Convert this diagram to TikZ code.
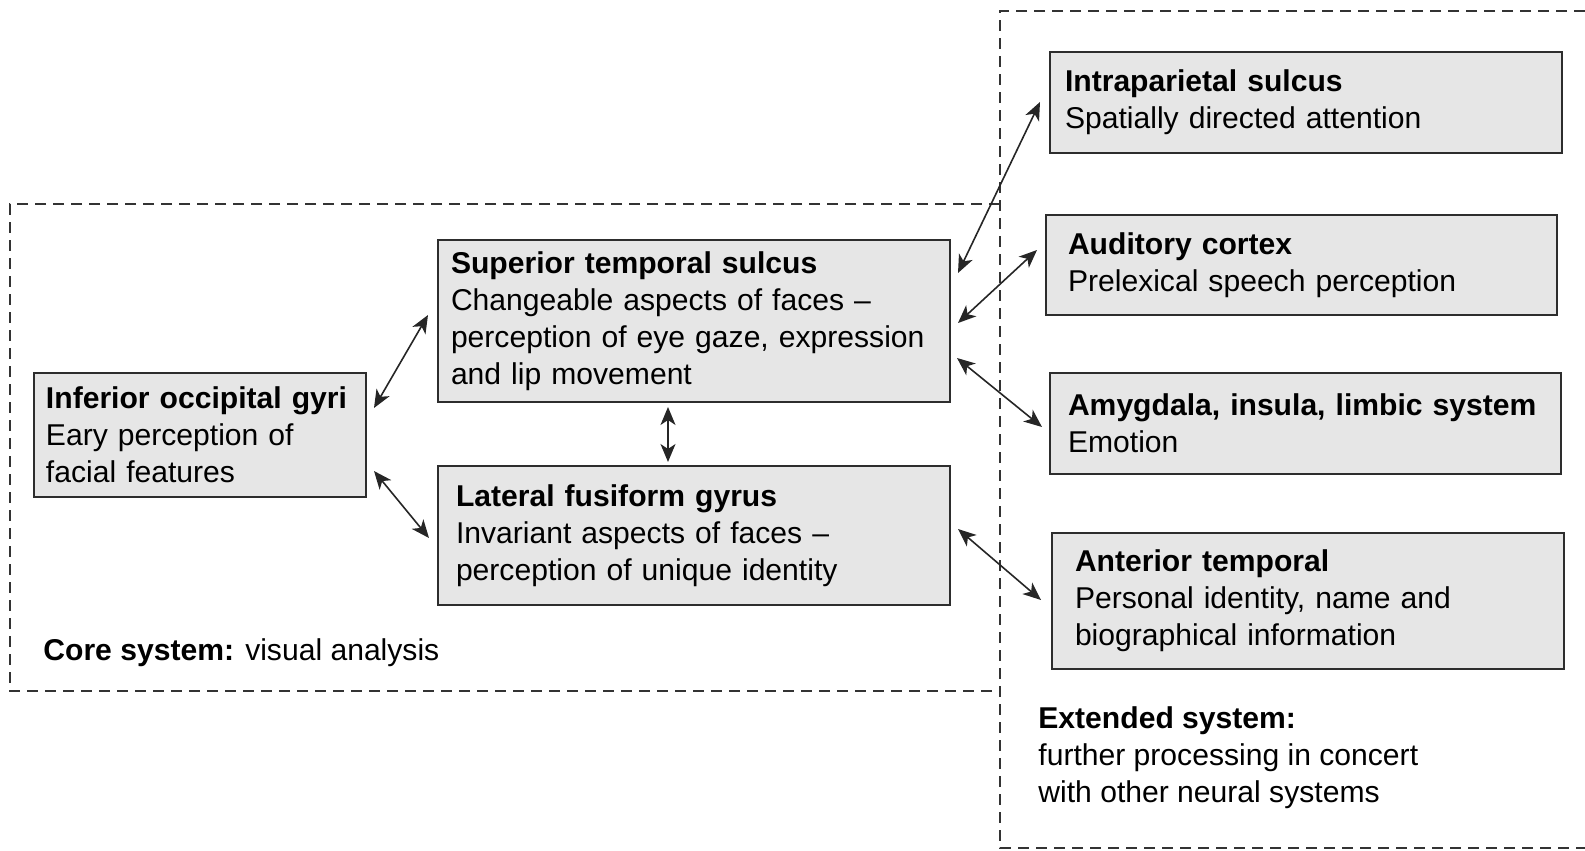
\documentclass[tikz,border=0pt]{standalone}
\usepackage{fontspec}
\setmainfont{Liberation Sans}
\usepackage{tikz}
\usetikzlibrary{arrows.meta}

\definecolor{boxfill}{RGB}{230,230,230}
\definecolor{boxline}{RGB}{45,45,45}

\tikzset{
  area/.style={draw=boxline, fill=boxfill, line width=1pt, align=left, anchor=north west, inner ysep=0pt},
  link/.style={{Stealth[length=9pt,width=7.5pt,inset=2.5pt]}-{Stealth[length=9pt,width=7.5pt,inset=2.5pt]}, line width=0.8pt, draw=black!85},
  border/.style={dashed, dash pattern=on 5.5pt off 3.5pt, line width=0.7pt, draw=black!80}
}

\begin{document}
\begin{tikzpicture}[x=0.5pt, y=-0.5pt, font=\fontsize{15.05}{18.5}\selectfont]
\useasboundingbox (0,0) rectangle (1585,851);
% dashed system frames
\draw [border] (1000,204) -- (10,204) -- (10,691) -- (1000,691);
\draw [border] (1585,11) -- (1000,11) -- (1000,848) -- (1585,848);

% core system
\node [area, text width=154pt, inner xsep=6pt, minimum height=62pt] (iog) at (33,372)
  {\textbf{Inferior occipital gyri}\\Eary perception of\\facial features};
\node [area, text width=243pt, inner xsep=6.5pt, minimum height=81pt] (sts) at (437,239)
  {\textbf{Superior temporal sulcus}\\Changeable aspects of faces --\\perception of eye gaze, expression\\and lip movement};
\node [area, text width=238pt, inner xsep=9pt, minimum height=69.5pt] (lfg) at (437,465)
  {\textbf{Lateral fusiform gyrus}\\Invariant aspects of faces --\\perception of unique identity};

% extended system
\node [area, text width=241pt, inner xsep=7.5pt, minimum height=50.5pt] (ips) at (1049,51)
  {\textbf{Intraparietal sulcus}\\Spatially directed attention};
\node [area, text width=233.5pt, inner xsep=11pt, minimum height=50pt] (aud) at (1045,214)
  {\textbf{Auditory cortex}\\Prelexical speech perception};
\node [area, text width=237.5pt, inner xsep=9pt, minimum height=50.5pt] (amy) at (1049,372)
  {\textbf{Amygdala, insula, limbic system}\\Emotion};
\node [area, text width=233pt, inner xsep=11.5pt, minimum height=68pt] (ant) at (1051,532)
  {\textbf{Anterior temporal}\\Personal identity, name and\\biographical information};

% captions
\node [anchor=base west, inner sep=0pt] (core) at (43,660) {\textbf{Core system:} visual analysis};
\node [anchor=north west, align=left, inner sep=0pt] (ext) at (1038,706)
  {\textbf{Extended system:}\\further processing in concert\\with other neural systems};

% connections
\draw [link] ([shift={(7,36)}]iog.north east) -- ([shift={(-9,76)}]sts.north west);
\draw [link] ([shift={(7,-27)}]iog.south east) -- ([shift={(-8,73)}]lfg.north west);
\draw [link] ([shift={(-26,4)}]sts.south) -- ([shift={(-26,-3)}]lfg.north);
\draw [link] ([shift={(7,34)}]sts.north east) -- ([shift={(-9,51)}]ips.north west);
\draw [link] ([shift={(7,84)}]sts.north east) -- ([shift={(-8,36)}]aud.north west);
\draw [link] ([shift={(6,119)}]sts.north east) -- ([shift={(-7,55)}]amy.north west);
\draw [link] ([shift={(7,64)}]lfg.north east) -- ([shift={(-10,68)}]ant.north west);
\end{tikzpicture}
\end{document}
